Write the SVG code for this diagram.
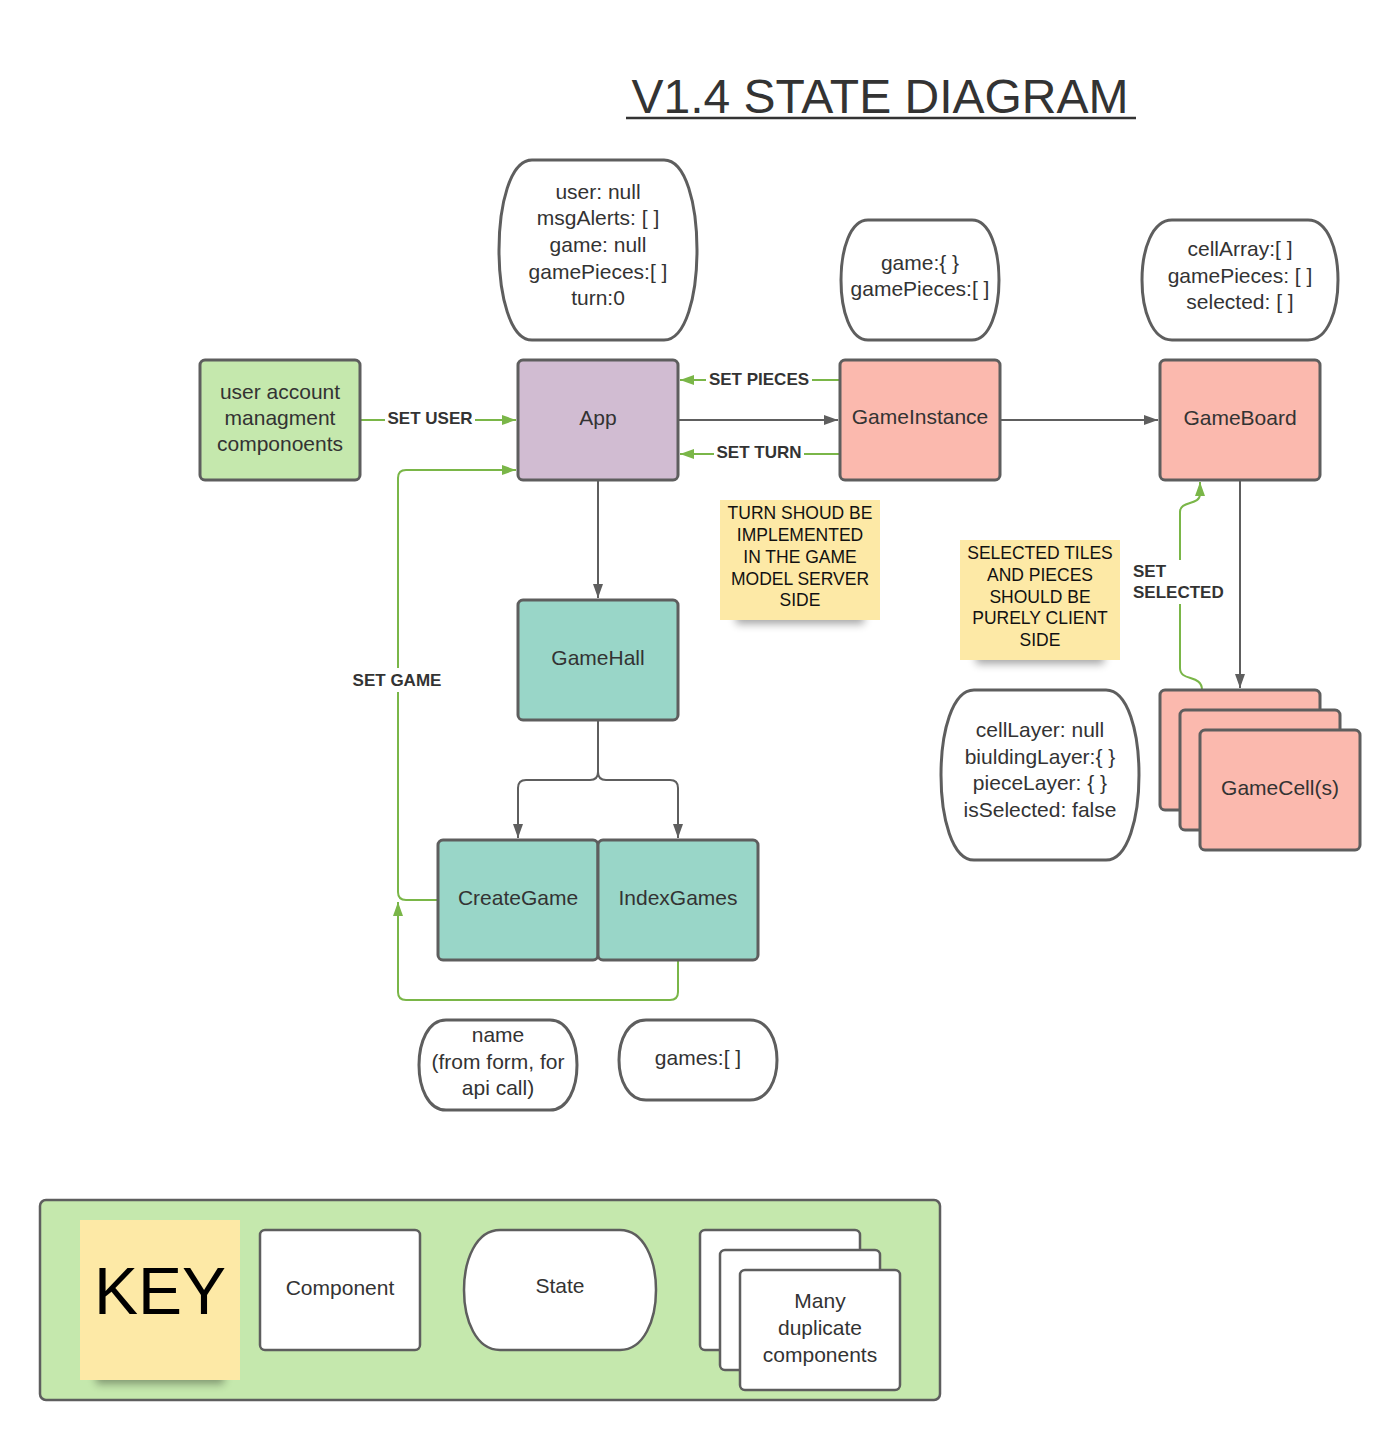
<svg xmlns="http://www.w3.org/2000/svg" width="1400" height="1440" viewBox="0 0 1400 1440">
<style>
text{font-family:"Liberation Sans",Arial,sans-serif;fill:#333;}
.lbl{font-size:21px;text-anchor:middle;}
.st{font-size:21px;text-anchor:middle;}
.note{font-size:17.5px;text-anchor:middle;fill:#111;}
.cl{font-size:17px;font-weight:bold;text-anchor:middle;fill:#333;}
.box{stroke:#5e5e5e;stroke-width:3;}
.state{fill:#fff;stroke:#5e5e5e;stroke-width:3;}
.gray{fill:none;stroke:#5e5e5e;stroke-width:2;}
.green{fill:none;stroke:#7ab648;stroke-width:2;}
.comp{fill:#fbb9ae;}
.teal{fill:#99d6c8;}
.notebg{fill:#fde9a6;}
</style>
<defs>
<marker id="ag" markerWidth="14" markerHeight="10" refX="14" refY="5" orient="auto" markerUnits="userSpaceOnUse"><path d="M0,0 L14,5 L0,10 z" fill="#5e5e5e"/></marker>
<marker id="agr" markerWidth="14" markerHeight="10" refX="14" refY="5" orient="auto" markerUnits="userSpaceOnUse"><path d="M0,0 L14,5 L0,10 z" fill="#7ab648"/></marker>
<filter id="blur" x="-20%" y="-100%" width="140%" height="300%"><feGaussianBlur stdDeviation="4"/></filter>
</defs>
<rect width="1400" height="1440" fill="#fff"/>

<g id="title">
<text x="880" y="113" style="font-size:48px;text-anchor:middle;fill:#333">V1.4 STATE DIAGRAM</text>
<line x1="626" y1="118" x2="1136" y2="118" stroke="#333" stroke-width="2.5"/>
</g>

<g id="connectors">
<line class="green" x1="360" y1="420" x2="516" y2="420" marker-end="url(#agr)"/>
<line class="gray" x1="678" y1="420" x2="838" y2="420" marker-end="url(#ag)"/>
<line class="green" x1="840" y1="380" x2="680" y2="380" marker-end="url(#agr)"/>
<line class="green" x1="840" y1="454" x2="680" y2="454" marker-end="url(#agr)"/>
<line class="gray" x1="1000" y1="420" x2="1158" y2="420" marker-end="url(#ag)"/>
<line class="gray" x1="598" y1="480" x2="598" y2="598" marker-end="url(#ag)"/>
<path class="gray" d="M598,720 L598,772 Q598,780 590,780 L526,780 Q518,780 518,788 L518,838" marker-end="url(#ag)"/>
<path class="gray" d="M598,720 L598,772 Q598,780 606,780 L670,780 Q678,780 678,788 L678,838" marker-end="url(#ag)"/>
<path class="green" d="M438,900 L406,900 Q398,900 398,892 L398,478 Q398,470 406,470 L516,470" marker-end="url(#agr)"/>
<path class="green" d="M678,960 L678,992 Q678,1000 670,1000 L406,1000 Q398,1000 398,992 L398,902" marker-end="url(#agr)"/>
<line class="gray" x1="1240" y1="480" x2="1240" y2="688" marker-end="url(#ag)"/>
<path class="green" d="M1202,690 C1202,674 1180,682 1180,668 L1180,512 C1180,500 1200,506 1200,494 L1200,482" marker-end="url(#agr)"/>
<rect x="385" y="408" width="90" height="22" fill="#fff"/>
<text class="cl" x="430" y="424">SET USER</text>
<rect x="706" y="368" width="106" height="22" fill="#fff"/>
<text class="cl" x="759" y="385">SET PIECES</text>
<rect x="714" y="442" width="90" height="22" fill="#fff"/>
<text class="cl" x="759" y="458">SET TURN</text>
<rect x="350" y="668" width="94" height="24" fill="#fff"/>
<text class="cl" x="397" y="686">SET GAME</text>
<rect x="1130" y="560" width="98" height="44" fill="#fff"/>
<text class="cl" x="1133" y="577" style="text-anchor:start">SET</text>
<text class="cl" x="1133" y="598" style="text-anchor:start">SELECTED</text>
</g>

<g id="app-state">
<path class="state" d="M532,160 L664,160 C708,160 708,340 664,340 L532,340 C488,340 488,160 532,160 Z"/>
<text class="st" x="598" y="198.5">user: null</text>
<text class="st" x="598" y="224.5">msgAlerts: [ ]</text>
<text class="st" x="598" y="251.5">game: null</text>
<text class="st" x="598" y="278.5">gamePieces:[ ]</text>
<text class="st" x="598" y="304.5">turn:0</text>
</g>

<g id="gameinstance-state">
<path class="state" d="M868,220 L972,220 C1008,220 1008,340 972,340 L868,340 C832,340 832,220 868,220 Z"/>
<text class="st" x="920" y="270">game:{ }</text>
<text class="st" x="920" y="296">gamePieces:[ ]</text>
</g>

<g id="gameboard-state">
<path class="state" d="M1172,220 L1308,220 C1348,220 1348,340 1308,340 L1172,340 C1132,340 1132,220 1172,220 Z"/>
<text class="st" x="1240" y="256">cellArray:[ ]</text>
<text class="st" x="1240" y="283">gamePieces: [ ]</text>
<text class="st" x="1240" y="309">selected: [ ]</text>
</g>

<g id="gamecell-state">
<path class="state" d="M974,690 L1106,690 C1150,690 1150,860 1106,860 L974,860 C930,860 930,690 974,690 Z"/>
<text class="st" x="1040" y="737">cellLayer: null</text>
<text class="st" x="1040" y="764">biuldingLayer:{ }</text>
<text class="st" x="1040" y="790">pieceLayer: { }</text>
<text class="st" x="1040" y="817">isSelected: false</text>
</g>

<g id="name-state">
<path class="state" d="M446,1020 L550,1020 C586,1020 586,1110 550,1110 L446,1110 C410,1110 410,1020 446,1020 Z"/>
<text class="st" x="498" y="1042">name</text>
<text class="st" x="498" y="1069">(from form, for</text>
<text class="st" x="498" y="1095">api call)</text>
</g>

<g id="games-state">
<path class="state" d="M646,1020 L750,1020 C786,1020 786,1100 750,1100 L646,1100 C610,1100 610,1020 646,1020 Z"/>
<text class="st" x="698" y="1065">games:[ ]</text>
</g>

<g id="user-account">
<rect class="box" x="200" y="360" width="160" height="120" rx="5" fill="#c5e8ad"/>
<text class="lbl" x="280" y="399">user account</text>
<text class="lbl" x="280" y="425">managment</text>
<text class="lbl" x="280" y="451">componoents</text>
</g>

<g id="app">
<rect class="box" x="518" y="360" width="160" height="120" rx="5" fill="#d1bcd2"/>
<text class="lbl" x="598" y="425">App</text>
</g>

<g id="gameinstance">
<rect class="box comp" x="840" y="360" width="160" height="120" rx="5"/>
<text class="lbl" x="920" y="424">GameInstance</text>
</g>

<g id="gameboard">
<rect class="box comp" x="1160" y="360" width="160" height="120" rx="5"/>
<text class="lbl" x="1240" y="425">GameBoard</text>
</g>

<g id="gamehall">
<rect class="box teal" x="518" y="600" width="160" height="120" rx="5"/>
<text class="lbl" x="598" y="665">GameHall</text>
</g>

<g id="creategame">
<rect class="box teal" x="438" y="840" width="160" height="120" rx="5"/>
<text class="lbl" x="518" y="905">CreateGame</text>
</g>

<g id="indexgames">
<rect class="box teal" x="598" y="840" width="160" height="120" rx="5"/>
<text class="lbl" x="678" y="905">IndexGames</text>
</g>

<g id="gamecells">
<rect class="box comp" x="1160" y="690" width="160" height="120" rx="5"/>
<rect class="box comp" x="1180" y="710" width="160" height="120" rx="5"/>
<rect class="box comp" x="1200" y="730" width="160" height="120" rx="5"/>
<text class="lbl" x="1280" y="795">GameCell(s)</text>
</g>

<g id="note-turn">
<rect x="736" y="608" width="128" height="16" fill="#000" opacity="0.35" filter="url(#blur)"/>
<rect class="notebg" x="720" y="500" width="160" height="120"/>
<text class="note" x="800" y="519">TURN SHOUD BE</text>
<text class="note" x="800" y="541">IMPLEMENTED</text>
<text class="note" x="800" y="563">IN THE GAME</text>
<text class="note" x="800" y="585">MODEL SERVER</text>
<text class="note" x="800" y="606">SIDE</text>
</g>

<g id="note-selected">
<rect x="976" y="648" width="128" height="16" fill="#000" opacity="0.35" filter="url(#blur)"/>
<rect class="notebg" x="960" y="540" width="160" height="120"/>
<text class="note" x="1040" y="559">SELECTED TILES</text>
<text class="note" x="1040" y="581">AND PIECES</text>
<text class="note" x="1040" y="603">SHOULD BE</text>
<text class="note" x="1040" y="624">PURELY CLIENT</text>
<text class="note" x="1040" y="646">SIDE</text>
</g>

<g id="key">
<rect x="40" y="1200" width="900" height="200" rx="6" fill="#c5e8ad" stroke="#5e5e5e" stroke-width="2.5"/>
<rect x="96" y="1368" width="128" height="16" fill="#000" opacity="0.35" filter="url(#blur)"/>
<rect class="notebg" x="80" y="1220" width="160" height="160"/>
<text x="160" y="1314" style="font-size:66px;text-anchor:middle;fill:#000">KEY</text>
<rect x="260" y="1230" width="160" height="120" rx="5" fill="#fff" stroke="#5e5e5e" stroke-width="2.5"/>
<text class="lbl" x="340" y="1295">Component</text>
<path d="M500,1230 L620,1230 C668,1230 668,1350 620,1350 L500,1350 C452,1350 452,1230 500,1230 Z" fill="#fff" stroke="#5e5e5e" stroke-width="2.5"/>
<text class="lbl" x="560" y="1293">State</text>
<rect x="700" y="1230" width="160" height="120" rx="5" fill="#fff" stroke="#5e5e5e" stroke-width="2.5"/>
<rect x="720" y="1250" width="160" height="120" rx="5" fill="#fff" stroke="#5e5e5e" stroke-width="2.5"/>
<rect x="740" y="1270" width="160" height="120" rx="5" fill="#fff" stroke="#5e5e5e" stroke-width="2.5"/>
<text class="lbl" x="820" y="1308">Many</text>
<text class="lbl" x="820" y="1335">duplicate</text>
<text class="lbl" x="820" y="1362">components</text>
</g>
</svg>
